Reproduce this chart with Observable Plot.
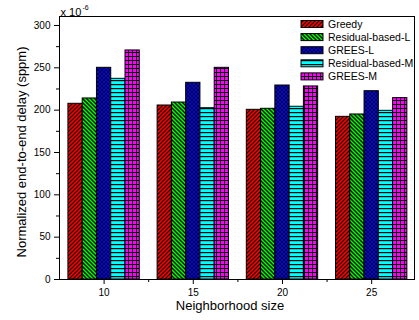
<!DOCTYPE html>
<html><head><meta charset="utf-8">
<script src="https://cdn.jsdelivr.net/npm/d3@7"></script>
<script src="https://cdn.jsdelivr.net/npm/@observablehq/plot@0.6"></script>
<style>
html,body{margin:0;padding:0;background:#fff;}
#chart{position:relative;width:419px;height:320px;}
</style></head><body><div id="chart"></div>
<script>
const groups = [10, 15, 20, 25];
const seriesNames = ["Greedy", "Residual-based-L", "GREES-L", "Residual-based-M", "GREES-M"];
const greedy    = [207.5, 205.5, 200.4, 192.1];
const residualL = [213.8, 209.0, 201.6, 194.9];
const greesL    = [250.0, 232.3, 229.1, 222.4];
const residualM = [237.0, 202.3, 204.0, 199.2];
const greesM    = [270.5, 250.0, 228.0, 214.2];
const yTicks = [0, 50, 100, 150, 200, 250, 300];
const yMinor = [25, 75, 125, 175, 225, 275];
const xTicks = [10, 15, 20, 25];
const xMinor = [12.5, 17.5, 22.5];
const seriesValues = [greedy, residualL, greesL, residualM, greesM];
const patternIds = ["pGreedy", "pResL", "pGreesL", "pResM", "pGreesM"];

const FONT = '"Liberation Sans", Arial, sans-serif';
const groupSpan = 4;                       // x units covered by one group of bars
const barW = groupSpan / seriesNames.length;

const rows = [];
seriesNames.forEach((s, i) => groups.forEach((g, j) => rows.push({
  series: s, idx: i, group: g, value: seriesValues[i][j],
  x1: g - groupSpan / 2 + i * barW, x2: g - groupSpan / 2 + (i + 1) * barW
})));

const barMarks = seriesNames.map((s, i) => Plot.rectY(rows.filter(d => d.idx === i), {
  x1: "x1", x2: "x2", y1: 0, y2: "value",
  fill: `url(#${patternIds[i]})`, stroke: "black", strokeWidth: 1
}));

const chart = Plot.plot({
  width: 419, height: 320,
  marginLeft: 59, marginRight: 5, marginTop: 16, marginBottom: 41,
  x: {domain: [7.5, 27.4]},
  y: {domain: [0, 310.6]},
  style: {fontFamily: FONT, fontSize: "10px", color: "black", background: "white", overflow: "visible"},
  marks: [
    ...barMarks,
    Plot.frame({stroke: "black", strokeWidth: 1}),
    Plot.axisY({ticks: yTicks, tickSize: 5, tickPadding: 4, label: null, fontSize: 10}),
    Plot.axisY({ticks: yMinor, tickSize: 3, tickFormat: () => "", label: null}),
    Plot.axisX({ticks: xTicks, tickSize: 5, tickPadding: 4, label: null, fontSize: 10}),
    Plot.axisX({ticks: xMinor, tickSize: 3, tickFormat: () => "", label: null}),
    Plot.text(["Neighborhood size"], {frameAnchor: "bottom", textAnchor: "middle", dy: 26, dx: -7, lineAnchor: "middle", fontSize: 13}),
    Plot.text(["Normalized end-to-end delay (sppm)"], {frameAnchor: "left", textAnchor: "middle", dx: -38, dy: 4, rotate: -90, lineAnchor: "middle", fontSize: 13}),
    Plot.text(["x 10"], {frameAnchor: "top-left", textAnchor: "start", lineAnchor: "bottom", dx: 1, dy: -1, fontSize: 11}),
    Plot.text(["-6"], {frameAnchor: "top-left", textAnchor: "start", lineAnchor: "bottom", dx: 23, dy: -7, fontSize: 7})
  ]
});

document.getElementById("chart").appendChild(chart);

// hatch patterns
const svg = d3.select(chart);
const defs = svg.insert("defs", ":first-child");
function pat(id, w, h, bg, draw) {
  const p = defs.append("pattern").attr("id", id).attr("patternUnits", "userSpaceOnUse")
    .attr("width", w).attr("height", h);
  p.append("rect").attr("width", w).attr("height", h).attr("fill", bg);
  draw(p);
}
pat("pGreedy", 4, 4, "#ff0000", p => p.append("path")
  .attr("d", "M-1,1L1,-1M0,4L4,0M3,5L5,3").attr("stroke", "black").attr("stroke-width", 1.2));
pat("pResL", 4, 4, "#00ff00", p => p.append("path")
  .attr("d", "M-1,3L1,5M0,0L4,4M3,-1L5,1").attr("stroke", "black").attr("stroke-width", 1.3));
pat("pGreesL", 4, 4, "#0000ff", p => p.append("path")
  .attr("d", "M-1,1L1,-1M0,4L4,0M3,5L5,3M-1,3L1,5M0,0L4,4M3,-1L5,1").attr("stroke", "black").attr("stroke-width", 0.9));
pat("pResM", 4, 4, "#00ffff", p => p.append("rect")
  .attr("x", 0).attr("y", 0).attr("width", 4).attr("height", 1.2).attr("fill", "black"));
pat("pGreesM", 4, 4, "#ff00ff", p => {
  p.append("rect").attr("x", 0).attr("y", 0).attr("width", 4).attr("height", 1).attr("fill", "black");
  p.append("rect").attr("x", 0).attr("y", 0).attr("width", 1).attr("height", 4).attr("fill", "black");
});

// legend
const leg = svg.append("g").attr("font-family", FONT).attr("font-size", 10.5).attr("text-anchor", "start");
seriesNames.forEach((s, i) => {
  const cy = 24 + i * 13.1;
  leg.append("rect").attr("x", 301).attr("y", cy - 3.5).attr("width", 22).attr("height", 7)
    .attr("fill", `url(#${patternIds[i]})`).attr("stroke", "black").attr("stroke-width", 1);
  leg.append("text").attr("x", 328).attr("y", cy).attr("dy", "0.35em").attr("text-anchor", "start")
    .attr("fill", "black").text(s);
});
</script>
</body></html>
